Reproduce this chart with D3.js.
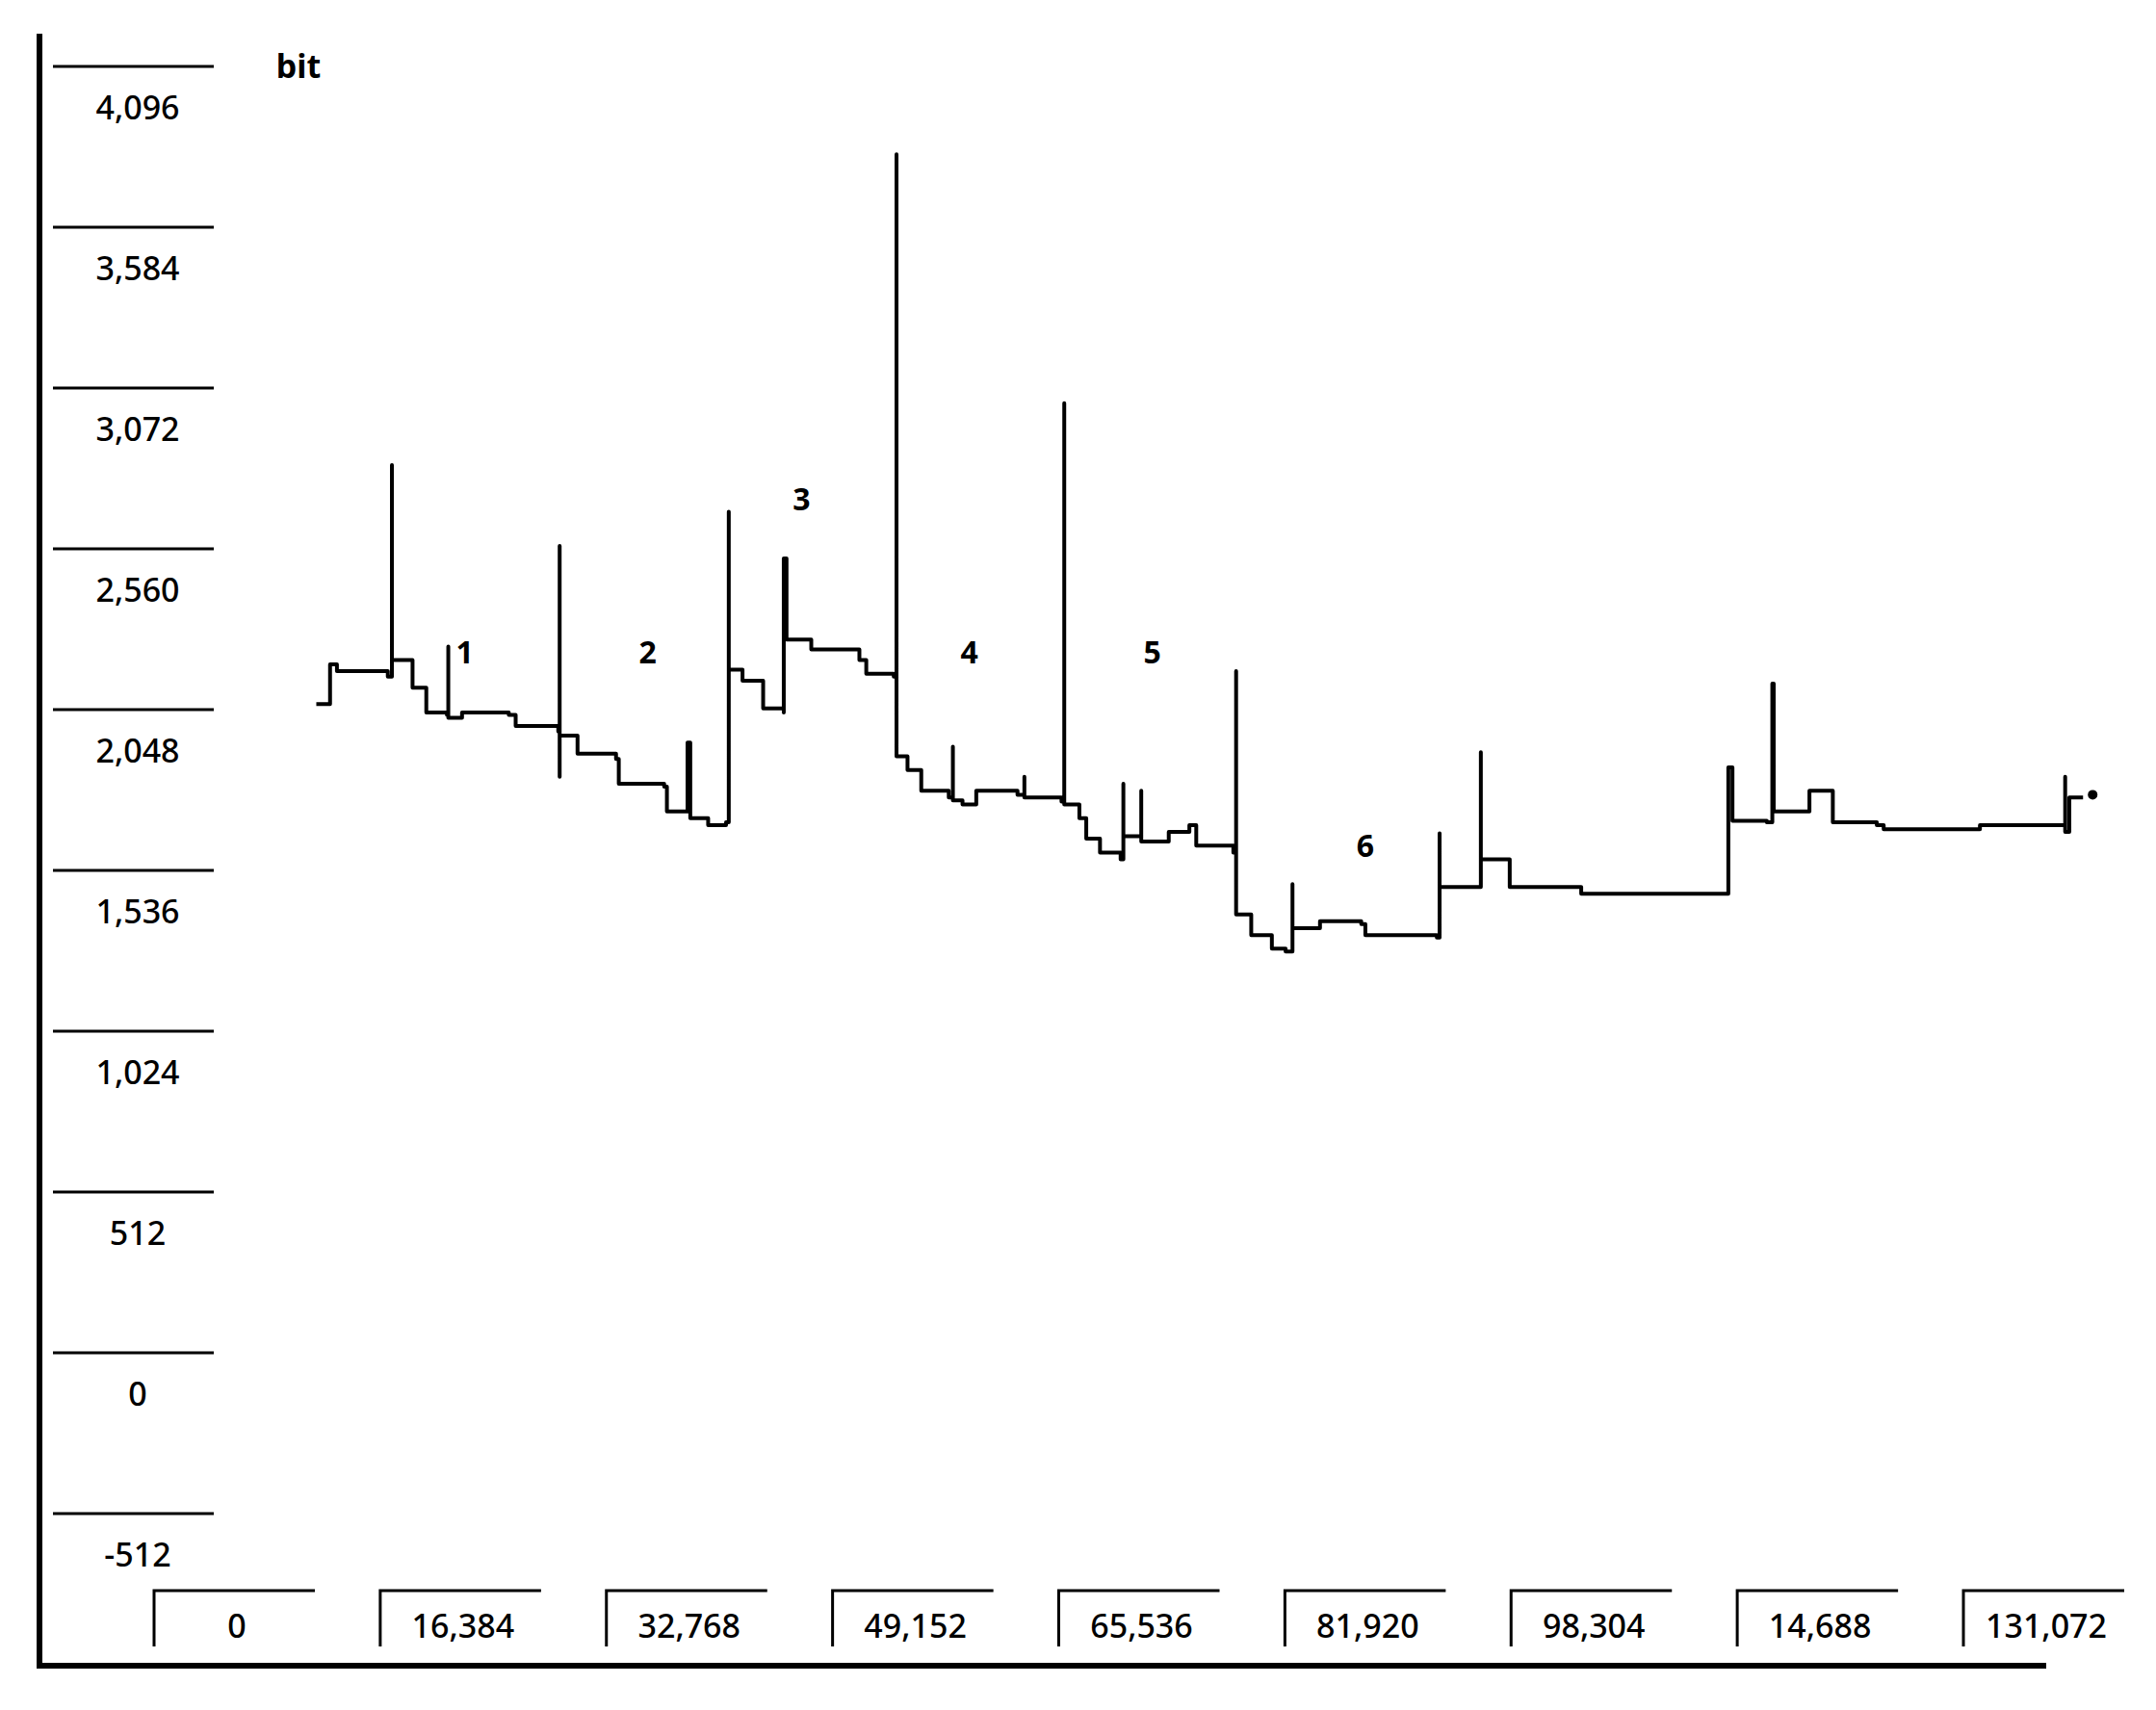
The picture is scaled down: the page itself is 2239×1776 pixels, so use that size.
<!DOCTYPE html>
<html><head><meta charset="utf-8">
<script src="https://d3js.org/d3.v7.min.js"></script>
<style>body{margin:0;background:#fff}</style>
</head><body>
<svg id="c" width="2239" height="1776"></svg>
<script>
const yTicks = [4096, 3584, 3072, 2560, 2048, 1536, 1024, 512, 0, -512];
const yTickLabels = ["4,096","3,584","3,072","2,560","2,048","1,536","1,024","512","0","-512"];
const xTicks = [0, 16384, 32768, 49152, 65536, 81920, 98304, 114688, 131072];
const xTickLabels = ["0","16,384","32,768","49,152","65,536","81,920","98,304","14,688","131,072"];
const sampleX = [11753,12749,12749,13247,16932,17231,17231,17231,18725,19721,21215,21314,21314,21314,21713,22310,25697,26195,29282,29382,29382,29382,29382,30179,30677,33466,33665,36952,37151,38446,38645,38645,38844,40139,41434,41633,41633,41633,42629,44123,45617,45617,45816,47609,51095,51593,53585,53784,53784,53784,54581,55577,57569,57868,57868,57868,58565,59561,62549,63047,63047,63047,63545,65736,65935,65935,65935,66134,67031,67529,68525,70019,70218,70218,70218,70517,71513,71513,71513,72011,73505,74999,75497,78186,78385,78385,78385,78485,79481,80975,81971,82469,82469,82469,84461,87449,87748,92927,93126,93126,93126,95716,96114,96114,96114,96214,97907,98206,103385,113843,114042,114042,114341,116831,117229,117229,117329,119520,119918,121313,121612,124799,125297,132269,138245,138444,138444,138444,138743,139739];
const sampleBits = [2066,2074,2192,2171,2153,2153,2827,2206,2118,2039,2031,2031,2249,2022,2022,2039,2031,1996,1978,1978,2569,1834,1965,1965,1908,1891,1812,1803,1724,1724,1724,1943,1702,1680,1689,1689,2678,2175,2140,2052,2039,2529,2271,2240,2206,2162,2153,2153,3816,1899,1856,1790,1768,1768,1930,1759,1746,1790,1777,1790,1834,1768,1768,1755,1755,3024,1746,1746,1702,1637,1593,1571,1571,1812,1645,1645,1637,1790,1628,1628,1659,1680,1615,1593,1593,2171,1396,1396,1330,1287,1278,1278,1492,1352,1374,1365,1330,1322,1322,1654,1483,1483,1483,1912,1571,1571,1571,1483,1462,1462,1462,1864,1694,1689,1689,2131,1724,1724,1790,1790,1689,1680,1667,1680,1680,1680,1834,1659,1768,1768];
const endDot = [140436, 1777];
const segLabels = ["1","2","3","4","5","6"];
const segLabelX = [22510, 35756, 46912, 59063, 72310, 87748];
const segLabelY = [2223, 2223, 2709, 2223, 2223, 1606];

const svg = d3.select("#c");
const x = d3.scaleLinear().domain([0, 131072]).range([160, 2039]);
const y = d3.scaleLinear().domain([4096, -512]).range([69, 1572]);
const F = "'Noto Sans', 'DejaVu Sans', sans-serif";

svg.append("line").attr("x1",41).attr("x2",41).attr("y1",35).attr("y2",1733).attr("stroke","#000").attr("stroke-width",6);
svg.append("line").attr("x1",38).attr("x2",2125).attr("y1",1730).attr("y2",1730).attr("stroke","#000").attr("stroke-width",6);

const yg = svg.append("g");
yTicks.forEach((v,i)=>{
  yg.append("line").attr("x1",55).attr("x2",222).attr("y1",y(v)).attr("y2",y(v)).attr("stroke","#000").attr("stroke-width",3);
  yg.append("text").attr("x",143).attr("y",y(v)+46).attr("text-anchor","middle").attr("dominant-baseline","middle")
    .attr("font-family",F).attr("font-size",34).attr("font-weight",500).text(yTickLabels[i]);
});
svg.append("text").attr("x",310).attr("y",72).attr("text-anchor","middle").attr("dominant-baseline","middle")
  .attr("font-family",F).attr("font-size",34).attr("font-weight","bold").text("bit");

const xg = svg.append("g");
xTicks.forEach((v,i)=>{
  const px = x(v);
  xg.append("path").attr("d",`M${px},1710V1652H${px+167}`).attr("fill","none").attr("stroke","#000").attr("stroke-width",3);
  xg.append("text").attr("x",px+86).attr("y",1692).attr("text-anchor","middle").attr("dominant-baseline","middle")
    .attr("font-family",F).attr("font-size",34).attr("font-weight",500).text(xTickLabels[i]);
});

const pts = sampleX.map((d,i)=>[d, sampleBits[i]]);
svg.append("path").attr("d", d3.line().curve(d3.curveStepAfter).x(d=>x(d[0])).y(d=>y(d[1]))(pts))
  .attr("fill","none").attr("stroke","#000").attr("stroke-width",4).attr("stroke-linejoin","round");
svg.append("circle").attr("cx",x(endDot[0])).attr("cy",y(endDot[1])).attr("r",5).attr("fill","#000");

segLabels.forEach((t,i)=>{
  svg.append("text").attr("x",x(segLabelX[i])).attr("y",y(segLabelY[i])).attr("text-anchor","middle").attr("dominant-baseline","middle")
    .attr("font-family",F).attr("font-size",32).attr("font-weight","bold").text(t);
});
</script>
</body></html>
